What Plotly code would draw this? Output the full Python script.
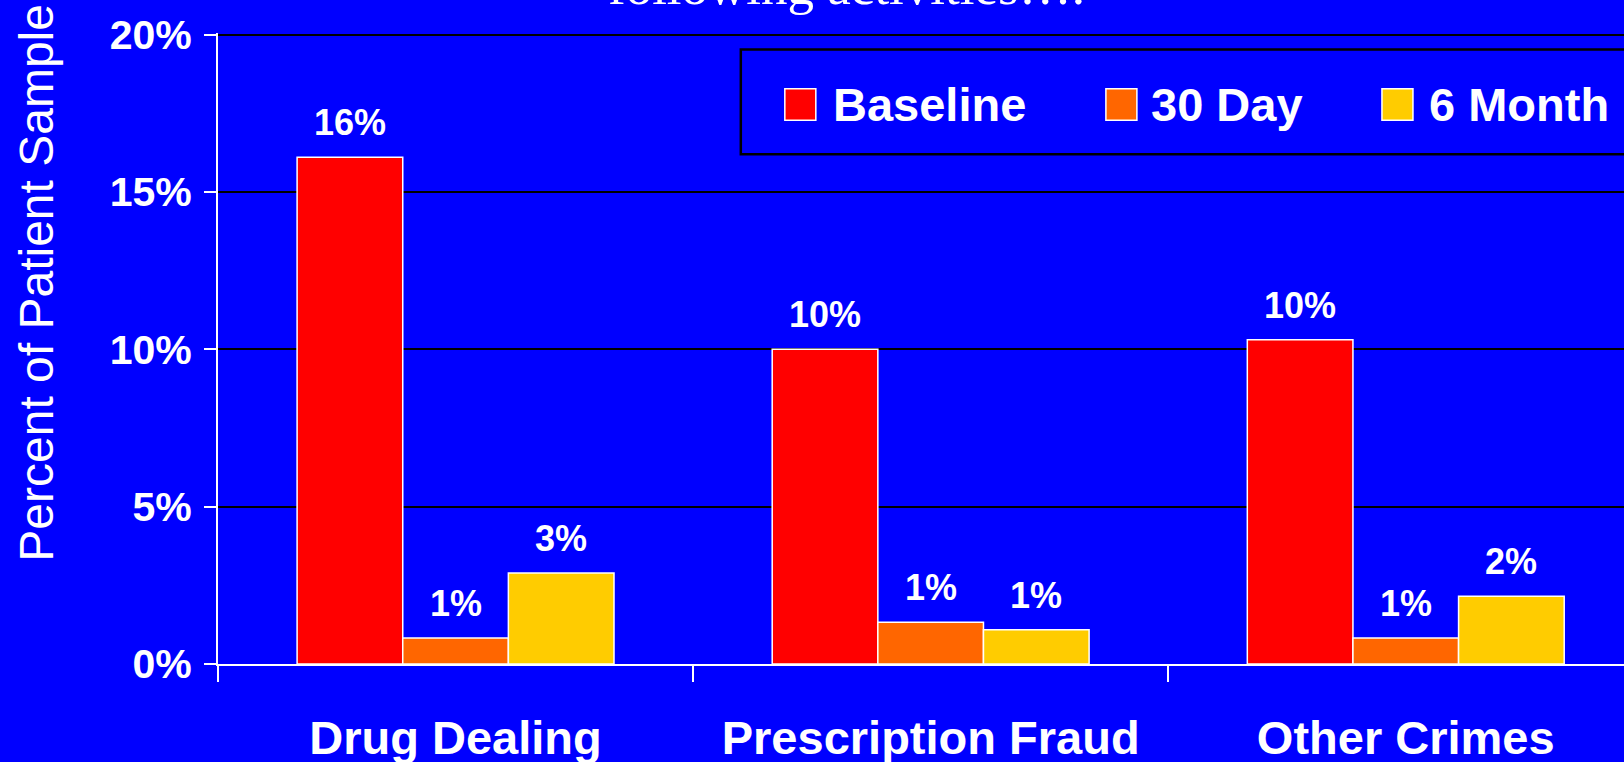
import plotly.graph_objects as go

# ---------------- data ----------------
categories = ["Drug Dealing", "Prescription Fraud", "Other Crimes"]
series_names = ["Baseline", "30 Day", "6 Month"]
baseline = [16.1, 10.0, 10.3]
day30 = [0.83, 1.33, 0.83]
month6 = [2.89, 1.09, 2.15]
y_ticks = [0, 5, 10, 15, 20]
y_tick_labels = ["0%", "5%", "10%", "15%", "20%"]
title_text = "following activities…."
y_title = "Percent of Patient Sample"

series_values = [baseline, day30, month6]
colors = ["#FF0000", "#FF6600", "#FFCC00"]

# ---------------- layout geometry (pixels) ----------------
W, H = 1624, 762
Y_TOP = 20.05                 # a hair above 20 so the 20% gridline is drawn
PX_PER_UNIT = 31.5
PL = 218.3
Y0_PX = 664.3                 # pixel row of 0%
PB = H - Y0_PX
PH = Y_TOP * PX_PER_UNIT
PT = Y0_PX - PH
PW = W - PL
BARGAP = 0.333
CAT_PX = 475.0
BG = "#0000FF"
SANS = "Arial, Liberation Sans, sans-serif"
SERIF = "Times New Roman, Liberation Serif, serif"


def px_x(px):
    return (px - PL) / PW


def px_y(py):
    return 1 - (py - PT) / PH


fig = go.Figure()
for name, vals, col in zip(series_names, series_values, colors):
    fig.add_trace(go.Bar(
        x=categories, y=vals, name=name,
        marker=dict(color=col, line=dict(color="white", width=1.5)),
        showlegend=False, hoverinfo="x+y+name",
    ))

# value labels above bars
bar_w = (1 - BARGAP) / len(series_names)
annotations = []
for j, vals in enumerate(series_values):
    off = (j - (len(series_names) - 1) / 2) * bar_w
    for i, v in enumerate(vals):
        annotations.append(dict(
            x=i + off, y=v, xref="x", yref="y",
            text=f"{round(v):.0f}%", showarrow=False,
            xanchor="center", yanchor="bottom", yshift=12,
            font=dict(family=SANS, size=36, color="white", weight="bold"),
        ))

# cut-off title line at top
annotations.append(dict(
    x=px_x(847), y=px_y(16.5), xref="paper", yref="paper",
    text=title_text, showarrow=False, xanchor="center", yanchor="bottom",
    font=dict(family=SERIF, size=53, color="white"),
))

# y-axis title
annotations.append(dict(
    x=px_x(36), y=px_y(283), xref="paper", yref="paper",
    text=y_title, showarrow=False, textangle=-90,
    xanchor="center", yanchor="middle",
    font=dict(family=SANS, size=48, color="white"),
))

# legend (box extends beyond the right edge, as in the original)
shapes = [dict(
    type="rect", xref="paper", yref="paper",
    x0=px_x(741), x1=px_x(1660), y0=px_y(49.3), y1=px_y(154),
    line=dict(color="black", width=2.5), fillcolor=BG, layer="above",
)]
legend_sq_x = [785, 1106, 1382]
legend_tx_x = [831, 1149, 1427]
for name, col, sx, tx in zip(series_names, colors, legend_sq_x, legend_tx_x):
    shapes.append(dict(
        type="rect", xref="paper", yref="paper",
        x0=px_x(sx), x1=px_x(sx + 31), y0=px_y(88.5), y1=px_y(120),
        line=dict(color="white", width=1.5), fillcolor=col, layer="above",
    ))
    annotations.append(dict(
        x=px_x(tx), y=px_y(104.5), xref="paper", yref="paper",
        text=name, showarrow=False, xanchor="left", yanchor="middle",
        font=dict(family=SANS, size=47, color="white", weight="bold"),
    ))

fig.update_layout(
    width=W, height=H,
    margin=dict(l=PL, r=0, t=PT, b=PB, pad=0, autoexpand=False),
    paper_bgcolor=BG, plot_bgcolor=BG,
    barmode="group", bargap=BARGAP, bargroupgap=0,
    showlegend=False,
    annotations=annotations, shapes=shapes,
    xaxis=dict(
        type="category", range=[-0.5, -0.5 + PW / CAT_PX], automargin=False,
        tickson="boundaries", ticks="outside", ticklen=16, tickwidth=2,
        tickcolor="white", showgrid=False, zeroline=False,
        showline=True, linecolor="white", linewidth=2,
        ticklabelstandoff=32,
        tickfont=dict(family=SANS, size=47, color="white", weight="bold"),
    ),
    yaxis=dict(
        range=[0, Y_TOP], tickmode="array", tickvals=y_ticks,
        ticktext=y_tick_labels, automargin=False,
        ticks="outside", ticklen=12, tickwidth=2, tickcolor="white",
        showgrid=True, gridcolor="black", gridwidth=2,
        zeroline=False, showline=True, linecolor="white", linewidth=2,
        ticklabelstandoff=4,
        tickfont=dict(family=SANS, size=41, color="white", weight="bold"),
    ),
)

fig.write_html(
    "out.html",
    config={"displayModeBar": False},
    post_script="document.body.style.margin='0';"
                "document.body.style.overflow='hidden';"
                "document.body.style.background='#0000FF';",
)
